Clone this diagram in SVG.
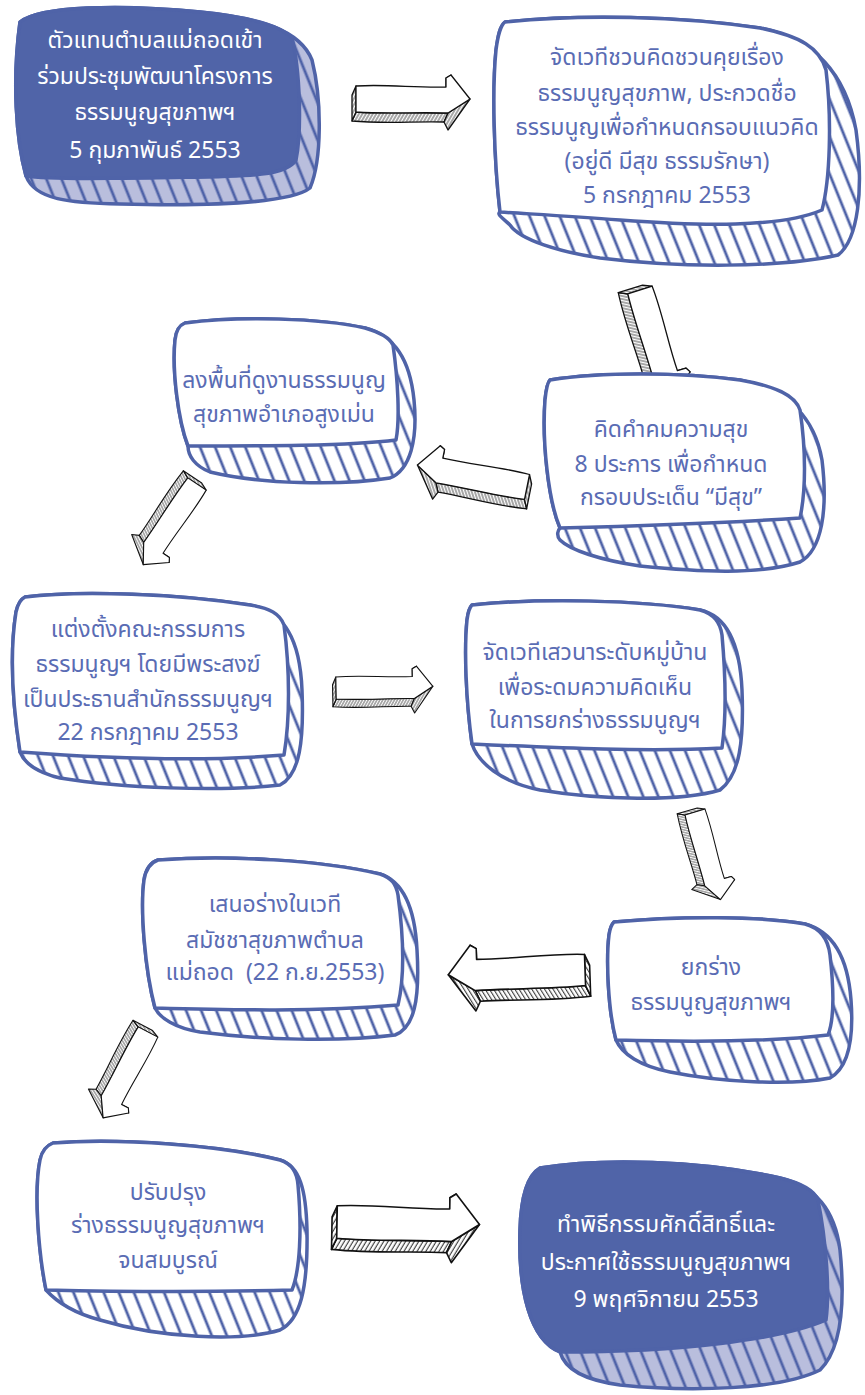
<svg xmlns="http://www.w3.org/2000/svg" xmlns:xlink="http://www.w3.org/1999/xlink" width="865" height="1395" viewBox="0 0 865 1395">
<style>
.shw{fill:url(#hw);stroke:#4f63a8;stroke-width:3.5;stroke-linejoin:round}
.shd{fill:url(#hd);stroke:#4f63a8;stroke-width:3.5;stroke-linejoin:round}
.frw{fill:#fff;stroke:#4f63a8;stroke-width:3.5;stroke-linejoin:round}
.frd{fill:#5064a8;stroke:#4f63a8;stroke-width:3.5;stroke-linejoin:round}
.t{font-family:"Noto Sans Thai","Noto Sans",sans-serif;font-size:23px;text-anchor:middle;fill:#5a6cb4}
.td{fill:#fff}
.af{fill:#fff;stroke:#111;stroke-width:1.3;stroke-linejoin:round}
.ah{fill:url(#ha);stroke:#111;stroke-width:1.3;stroke-linejoin:round}
</style>
<defs>
<pattern id="hw" width="14" height="14" patternUnits="userSpaceOnUse" patternTransform="rotate(-22)">
<rect width="14" height="14" fill="#fff"/><line x1="4" y1="0" x2="4" y2="14" stroke="#4f63a8" stroke-width="2.8"/>
</pattern>
<pattern id="hd" width="14" height="14" patternUnits="userSpaceOnUse" patternTransform="rotate(-22)">
<rect width="14" height="14" fill="#b9bedd"/><line x1="4" y1="0" x2="4" y2="14" stroke="#4f63a8" stroke-width="2.8"/>
</pattern>
<pattern id="ha" width="3" height="3" patternUnits="userSpaceOnUse" patternTransform="rotate(30)">
<rect width="3" height="3" fill="#fff"/><line x1="1" y1="0" x2="1" y2="3" stroke="#222" stroke-width="0.8"/>
</pattern>
<g id="arr">
<path class="ah" d="M0,13 C30,15 60,13 92,14 L88,23 C60,22 30,25 -4,22 Z"/>
<path class="ah" d="M0,-13 L0,13 L-4,22 L-4,-4 Z"/>
<path class="ah" d="M114,0 L92,14 L88,23 L92,31 Z"/>
<path class="ah" d="M90,-12 L90,-21 L95,-24 L95,-14 Z"/>
<path class="af" d="M0,-13 C30,-15 60,-11 90,-12 L90,-21 L95,-24 L114,0 L92,14 C60,13 30,15 0,13 Z"/>
</g>
</defs>
<rect width="865" height="1395" fill="#fff"/>

<g id="connectors">
<use xlink:href="#arr" href="#arr" transform="translate(356,99)"/>
<use xlink:href="#arr" href="#arr" transform="translate(640,290) rotate(72.7) scale(0.98)"/>
<use xlink:href="#arr" href="#arr" transform="translate(527,487) scale(-1,1) rotate(-11.3) scale(0.98)"/>
<use xlink:href="#arr" href="#arr" transform="translate(197,484) rotate(123.7) scale(0.85)"/>
<use xlink:href="#arr" href="#arr" transform="translate(336,688) rotate(-1) scale(0.85)"/>
<use xlink:href="#arr" href="#arr" transform="translate(695,812) rotate(73.8) scale(0.8)"/>
<use xlink:href="#arr" href="#arr" transform="translate(585,970) scale(-1,1) rotate(2) scale(1.2)"/>
<use xlink:href="#arr" href="#arr" transform="translate(148,1032) rotate(117.6) scale(0.85)"/>
<use xlink:href="#arr" href="#arr" transform="translate(337,1222) rotate(1) scale(1.25)"/>
</g>

<g id="n1">
<path class="shd" d="M20,22 C40,6 120,4 200,12 C260,18 300,30 312,60 C322,100 322,160 310,188 C290,204 200,206 120,204 C70,203 35,200 26,176 C16,140 12,80 20,22 Z"/>
<path class="frd" d="M20,22 C40,6 120,4 200,12 C250,17 280,25 292,38 C300,70 302,130 296,160 C285,178 240,176 150,178 C100,178 50,180 26,176 C16,140 12,80 20,22 Z"/>
<text class="t td" x="155"><tspan x="155" y="48">ตัวแทนตำบลแม่ถอดเข้า</tspan><tspan x="155" y="84">ร่วมประชุมพัฒนาโครงการ</tspan><tspan x="155" y="120">ธรรมนูญสุขภาพฯ</tspan><tspan x="155" y="158">5 กุมภาพันธ์ 2553</tspan></text>
</g>

<g id="n2">
<path class="shw" d="M505,22 C580,14 680,16 760,28 C810,38 845,70 856,130 C864,190 858,240 838,255 C780,268 680,268 600,258 C560,252 520,240 510,225 C500,216 497,214 500,212 C494,160 492,90 496,50 C498,35 500,26 505,22 Z"/>
<path class="frw" d="M505,22 C580,14 680,16 760,28 C800,36 820,48 826,70 C832,120 830,180 822,210 C780,228 700,226 620,220 C570,216 530,214 500,212 C494,160 492,90 496,50 C498,35 500,26 505,22 Z"/>
<text class="t"><tspan x="667" y="65">จัดเวทีชวนคิดชวนคุยเรื่อง</tspan><tspan x="667" y="101">ธรรมนูญสุขภาพ, ประกวดชื่อ</tspan><tspan x="667" y="135">ธรรมนูญเพื่อกำหนดกรอบแนวคิด</tspan><tspan x="667" y="169">(อยู่ดี มีสุข ธรรมรักษา)</tspan><tspan x="667" y="203">5 กรกฎาคม 2553</tspan></text>
</g>

<g id="n3">
<path class="shw" d="M550,380 C600,372 680,372 740,380 C790,390 815,420 822,460 C828,510 822,550 800,562 C760,575 700,572 640,566 C600,560 570,550 560,540 C556,535 558,530 560,528 C548,500 542,440 545,400 C546,390 547,383 550,380 Z"/>
<path class="frw" d="M550,380 C600,372 680,372 740,380 C775,386 795,395 800,410 C806,450 806,490 800,518 C740,522 640,526 560,528 C548,500 542,440 545,400 C546,390 547,383 550,380 Z"/>
<text class="t"><tspan x="671" y="437">คิดคำคมความสุข</tspan><tspan x="671" y="472">8 ประการ เพื่อกำหนด</tspan><tspan x="671" y="505">กรอบประเด็น “มีสุข”</tspan></text>
</g>

<g id="n4">
<path class="shw" d="M185,323 C240,316 320,318 365,328 C395,336 410,360 414,400 C418,440 410,470 390,478 C340,486 260,484 210,472 C195,466 188,456 188,446 C178,420 172,370 175,340 C176,330 180,325 185,323 Z"/>
<path class="frw" d="M185,323 C240,316 320,318 365,328 C382,333 390,338 393,345 C398,380 400,420 396,440 C350,446 260,446 188,446 C178,420 172,370 175,340 C176,330 180,325 185,323 Z"/>
<text class="t"><tspan x="284" y="388">ลงพื้นที่ดูงานธรรมนูญ</tspan><tspan x="284" y="422">สุขภาพอำเภอสูงเม่น</tspan></text>
</g>

<g id="n5">
<path class="shw" d="M25,597 C80,590 180,594 250,605 C285,612 300,640 302,690 C304,740 300,775 280,785 C220,792 120,788 60,778 C35,772 24,762 20,752 C12,700 10,650 16,612 C18,603 21,599 25,597 Z"/>
<path class="frw" d="M25,597 C80,590 180,594 250,605 C270,608 280,614 284,625 C290,670 290,720 284,755 C200,762 100,758 20,752 C12,700 10,650 16,612 C18,603 21,599 25,597 Z"/>
<text class="t"><tspan x="148" y="637">แต่งตั้งคณะกรรมการ</tspan><tspan x="148" y="672">ธรรมนูญฯ โดยมีพระสงฆ์</tspan><tspan x="148" y="707">เป็นประธานสำนักธรรมนูญฯ</tspan><tspan x="148" y="740">22 กรกฎาคม 2553</tspan></text>
</g>

<g id="n6">
<path class="shw" d="M472,605 C540,598 640,600 700,610 C728,616 740,645 742,690 C744,740 740,775 720,790 C680,802 600,800 540,790 C500,782 478,762 472,744 C466,700 464,650 467,620 C468,612 470,607 472,605 Z"/>
<path class="frw" d="M472,605 C540,598 640,600 700,610 C714,614 720,622 722,635 C726,680 726,720 722,748 C650,752 560,748 472,744 C466,700 464,650 467,620 C468,612 470,607 472,605 Z"/>
<text class="t"><tspan x="595" y="660">จัดเวทีเสวนาระดับหมู่บ้าน</tspan><tspan x="595" y="695">เพื่อระดมความคิดเห็น</tspan><tspan x="595" y="728">ในการยกร่างธรรมนูญฯ</tspan></text>
</g>

<g id="n7">
<path class="shw" d="M614,922 C680,916 760,916 805,924 C835,932 848,960 851,1000 C854,1040 848,1068 830,1078 C790,1086 720,1082 670,1072 C640,1066 622,1054 616,1040 C608,1010 606,960 609,935 C610,928 612,924 614,922 Z"/>
<path class="frw" d="M614,922 C680,916 760,916 805,924 C820,928 828,938 830,955 C834,990 834,1020 828,1035 C770,1042 690,1042 616,1040 C608,1010 606,960 609,935 C610,928 612,924 614,922 Z"/>
<text class="t"><tspan x="711" y="975">ยกร่าง</tspan><tspan x="711" y="1010">ธรรมนูญสุขภาพฯ</tspan></text>
</g>

<g id="n8">
<path class="shw" d="M158,860 C230,855 320,860 380,874 C405,882 415,910 417,950 C420,1000 414,1028 395,1035 C340,1042 260,1040 200,1032 C175,1028 160,1018 155,1008 C145,970 140,910 144,880 C146,868 152,862 158,860 Z"/>
<path class="frw" d="M158,860 C230,855 320,860 380,874 C392,878 396,884 398,895 C404,940 404,980 398,1005 C320,1012 230,1010 155,1008 C145,970 140,910 144,880 C146,868 152,862 158,860 Z"/>
<text class="t"><tspan x="275" y="912">เสนอร่างในเวที</tspan><tspan x="275" y="948">สมัชชาสุขภาพตำบล</tspan><tspan x="275" y="980">แม่ถอด&#160; (22 ก.ย.2553)</tspan></text>
</g>

<g id="n9">
<path class="shw" d="M53,1143 C120,1138 220,1145 280,1160 C300,1166 306,1190 307,1230 C308,1290 300,1320 280,1330 C240,1342 160,1338 100,1320 C70,1312 55,1300 46,1290 C38,1250 34,1190 40,1160 C42,1150 48,1145 53,1143 Z"/>
<path class="frw" d="M53,1143 C120,1138 220,1145 280,1160 C292,1164 297,1172 298,1185 C302,1230 300,1270 292,1290 C220,1292 130,1292 46,1290 C38,1250 34,1190 40,1160 C42,1150 48,1145 53,1143 Z"/>
<text class="t"><tspan x="168" y="1200">ปรับปรุง</tspan><tspan x="168" y="1233">ร่างธรรมนูญสุขภาพฯ</tspan><tspan x="168" y="1268">จนสมบูรณ์</tspan></text>
</g>

<g id="n10">
<path class="shd" d="M540,1168 C600,1158 700,1160 780,1178 C815,1186 835,1210 840,1250 C846,1310 840,1350 820,1370 C780,1390 690,1392 620,1385 C585,1380 565,1370 560,1352 C530,1340 518,1290 520,1230 C521,1195 528,1175 540,1168 Z"/>
<path class="frd" d="M540,1168 C600,1158 700,1160 780,1178 C805,1184 815,1192 818,1200 C826,1240 830,1290 826,1320 C780,1340 680,1352 560,1352 C530,1340 518,1290 520,1230 C521,1195 528,1175 540,1168 Z"/>
<text class="t td"><tspan x="666" y="1232">ทำพิธีกรรมศักดิ์สิทธิ์และ</tspan><tspan x="666" y="1270">ประกาศใช้ธรรมนูญสุขภาพฯ</tspan><tspan x="666" y="1307">9 พฤศจิกายน 2553</tspan></text>
</g>
</svg>
